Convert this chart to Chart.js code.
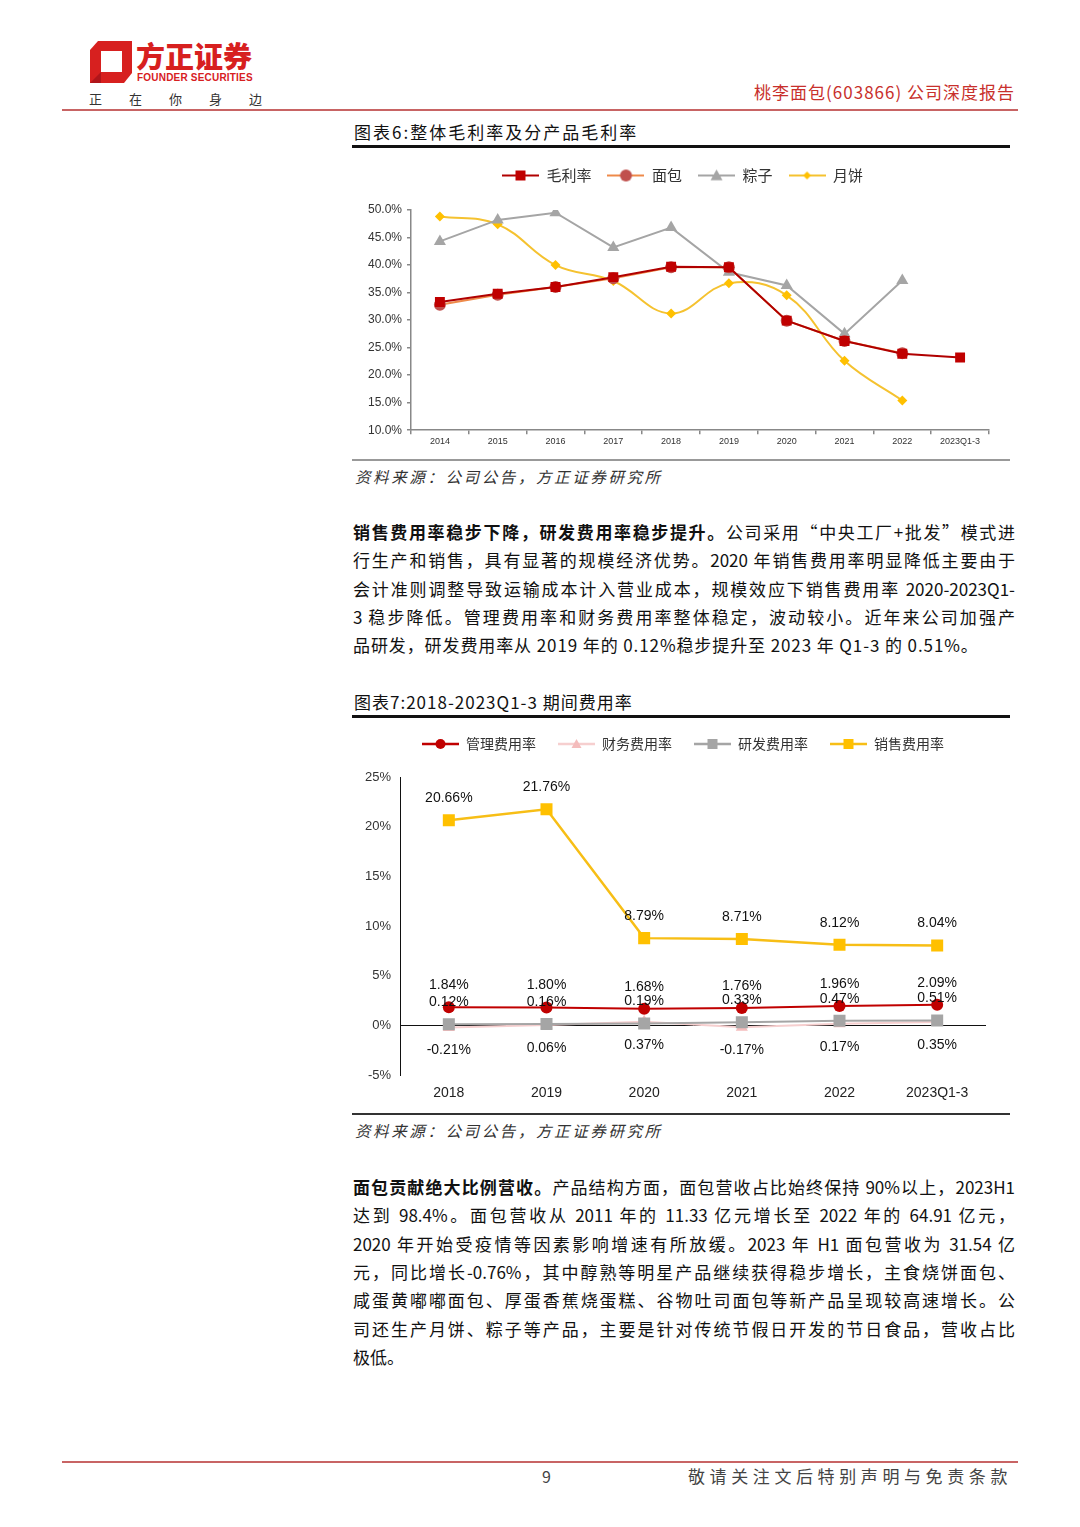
<!DOCTYPE html>
<html>
<head>
<meta charset="utf-8">
<script src="https://cdn.jsdelivr.net/npm/chart.js@4.4.0/dist/chart.umd.min.js"></script>
<style>
  body { margin: 0; background: #fff; }
  #page { position: relative; width: 1080px; height: 1527px; overflow: hidden; background: #fff;
          font-family: "Noto Sans CJK SC", "Noto Sans", sans-serif; color: #111; }
  .abs { position: absolute; white-space: nowrap; }
  .rule { position: absolute; }
  .title { font-size: 17px; line-height: 24px; letter-spacing: 1px; color: #111; }
  .src { font-size: 15.5px; line-height: 22px; font-style: italic; letter-spacing: 2.6px; color: #333; }
  .para { position: absolute; left: 353px; width: 662px; font-size: 17px; color: #111; }
  .para div { height: 28.4px; line-height: 28.4px; white-space: nowrap; }
  .para div.j { text-align: justify; text-align-last: justify; white-space: normal; overflow: hidden; }
  .para div.last { letter-spacing: 0.9px; }
  .para b { font-weight: 700; }
  .box { position: absolute; }
</style>
</head>
<body>
<div id="page">
  <!-- header -->
  <svg class="abs" style="left:88px;top:39px" width="46" height="46" viewBox="0 0 46 46">
    <path d="M10 2 L44 2 L44 34 L36 44 L2 44 L2 11 Z" fill="#d7201f"/>
    <path d="M13 12 L34 12 L34 33 L13 33 Z" fill="#fff"/>
    <path d="M2 44 L13 33 L13 44 Z" fill="#b0151a"/>
  </svg>
  <div class="abs" style="left:136px;top:36px;font-size:29px;line-height:38px;font-weight:900;color:#d7201f">方正证券</div>
  <div class="abs" style="left:137px;top:72px;font-family:'Liberation Sans',Arial;font-size:10px;line-height:12px;font-weight:700;color:#d7201f;letter-spacing:0.2px">FOUNDER SECURITIES</div>
  <div class="abs" style="left:89px;top:91px;font-size:13px;line-height:16px;color:#333;letter-spacing:27px">正在你身边</div>
  <div class="abs" style="right:65px;top:80px;font-size:17px;line-height:24px;color:#c8302c;letter-spacing:1px">桃李面包(603866) 公司深度报告</div>
  <div class="rule" style="left:62px;top:109px;width:956px;height:2px;background:#c86464"></div>

  <!-- figure 6 -->
  <div class="abs title" style="left:354px;top:120px;letter-spacing:2px">图表6:整体毛利率及分产品毛利率</div>
  <div class="rule" style="left:352px;top:145px;width:658px;height:3px;background:#111"></div>
  <div class="box" style="left:352px;top:150px;width:658px;height:305px"><canvas id="marginChart"></canvas></div>
  <div class="rule" style="left:352px;top:459px;width:658px;height:2px;background:#999"></div>
  <div class="abs src" style="left:355px;top:465px">资料来源：公司公告，方正证券研究所</div>

  <div class="para" style="top:517.8px">
    <div class="j"><b>销售费用率稳步下降，研发费用率稳步提升。</b>公司采用“中央工厂+批发”模式进</div>
    <div class="j">行生产和销售，具有显著的规模经济优势。2020 年销售费用率明显降低主要由于</div>
    <div class="j">会计准则调整导致运输成本计入营业成本，规模效应下销售费用率 2020-2023Q1-</div>
    <div class="j">3 稳步降低。管理费用率和财务费用率整体稳定，波动较小。近年来公司加强产</div>
    <div class="last">品研发，研发费用率从 2019 年的 0.12%稳步提升至 2023 年 Q1-3 的 0.51%。</div>
  </div>

  <!-- figure 7 -->
  <div class="abs title" style="left:354px;top:690px">图表7:2018-2023Q1-3 期间费用率</div>
  <div class="rule" style="left:352px;top:715px;width:658px;height:3px;background:#111"></div>
  <div class="box" style="left:352px;top:715px;width:658px;height:391px"><canvas id="expenseChart"></canvas></div>
  <div class="rule" style="left:352px;top:1113px;width:658px;height:2px;background:#333"></div>
  <div class="abs src" style="left:355px;top:1119px">资料来源：公司公告，方正证券研究所</div>

  <div class="para" style="top:1172.8px">
    <div class="j"><b>面包贡献绝大比例营收。</b>产品结构方面，面包营收占比始终保持 90%以上，2023H1</div>
    <div class="j">达到 98.4%。面包营收从 2011 年的 11.33 亿元增长至 2022 年的 64.91 亿元，</div>
    <div class="j">2020 年开始受疫情等因素影响增速有所放缓。2023 年 H1 面包营收为 31.54 亿</div>
    <div class="j">元，同比增长-0.76%，其中醇熟等明星产品继续获得稳步增长，主食烧饼面包、</div>
    <div class="j">咸蛋黄嘟嘟面包、厚蛋香蕉烧蛋糕、谷物吐司面包等新产品呈现较高速增长。公</div>
    <div class="j">司还生产月饼、粽子等产品，主要是针对传统节假日开发的节日食品，营收占比</div>
    <div>极低。</div>
  </div>

  <!-- footer -->
  <div class="rule" style="left:62px;top:1461px;width:956px;height:2px;background:#c86464"></div>
  <div class="abs" style="left:542px;top:1465px;font-size:16px;line-height:22px;color:#444">9</div>
  <div class="abs" style="left:688px;top:1464px;font-size:17px;line-height:24px;color:#444;letter-spacing:4.6px">敬请关注文后特别声明与免责条款</div>
</div>

<script>
// ---- data ----
const years1 = ['2014', '2015', '2016', '2017', '2018', '2019', '2020', '2021', '2022', '2023Q1-3'];
const grossMargin = [33.3, 34.8, 36.0, 37.8, 39.7, 39.6, 29.9, 26.2, 23.9, 23.2];
const breadMargin = [32.8, 34.6, 36.0, 37.6, 39.6, 39.6, 29.9, 26.2, 24.0, null];
const zongziMargin = [44.3, 48.2, 49.5, 43.2, 46.8, 38.7, 36.3, 27.5, 37.2, null];
const mooncakeMargin = [48.8, 47.4, 40.0, 37.1, 31.2, 36.7, 34.5, 22.6, 15.4, null];

const years2 = ['2018', '2019', '2020', '2021', '2022', '2023Q1-3'];
const adminRate = [1.84, 1.80, 1.68, 1.76, 1.96, 2.09];
const financeRate = [-0.21, 0.06, 0.37, -0.17, 0.17, 0.35];
const rdRate = [0.12, 0.16, 0.19, 0.33, 0.47, 0.51];
const salesRate = [20.66, 21.76, 8.79, 8.71, 8.12, 8.04];

Chart.defaults.font.family = '"Liberation Sans", Arial, sans-serif';
Chart.defaults.color = '#333';
const cjkFont = '"Noto Sans CJK SC", sans-serif';

// small line+marker swatch for legends
function legendIcon(lineColor, lineWidth, shape, fill, r) {
  const c = document.createElement('canvas');
  c.width = 37; c.height = 14;
  const g = c.getContext('2d');
  g.strokeStyle = lineColor;
  g.lineWidth = lineWidth;
  g.beginPath(); g.moveTo(0, 7); g.lineTo(37, 7); g.stroke();
  g.fillStyle = fill;
  const cx = 18.5, cy = 7;
  g.beginPath();
  if (shape === 'rect') g.rect(cx - r, cy - r, 2 * r, 2 * r);
  else if (shape === 'circle') g.arc(cx, cy, r, 0, Math.PI * 2);
  else if (shape === 'triangle') { g.moveTo(cx, cy - r); g.lineTo(cx + r, cy + r * 0.8); g.lineTo(cx - r, cy + r * 0.8); g.closePath(); }
  else if (shape === 'diamond') { g.moveTo(cx, cy - r); g.lineTo(cx + r, cy); g.lineTo(cx, cy + r); g.lineTo(cx - r, cy); g.closePath(); }
  g.fill();
  return c;
}

function legendLabels(chart) {
  const items = Chart.defaults.plugins.legend.labels.generateLabels(chart);
  items.forEach((it) => { it.pointStyle = chart.data.datasets[it.datasetIndex].legendIcon; });
  items.sort((a, b) => a.datasetIndex - b.datasetIndex);
  return items;
}

// extra gap under the legend and a horizontal nudge, so it sits like the original
const legendTweak = {
  id: 'legendTweak',
  afterInit(chart, args, opts) {
    const legend = chart.legend;
    const fit = legend.fit;
    const draw = legend.draw;
    legend.fit = function () {
      fit.call(legend);
      legend.height += opts.gap || 0;
    };
    legend.draw = function () {
      chart.ctx.save();
      chart.ctx.translate(opts.dx || 0, 0);
      draw.call(legend);
      chart.ctx.restore();
    };
  }
};

// value labels above / below points
const valueLabels = {
  id: 'valueLabels',
  afterDatasetsDraw(chart) {
    const ctx = chart.ctx;
    chart.data.datasets.forEach((ds, i) => {
      if (!ds.labelPos) return;
      const meta = chart.getDatasetMeta(i);
      ctx.save();
      ctx.font = '14px "Liberation Sans", Arial';
      ctx.fillStyle = '#111';
      ctx.textAlign = 'center';
      ctx.textBaseline = 'middle';
      meta.data.forEach((pt, j) => {
        const off = ds.labelPos === 'above' ? -22 : 23;
        ctx.fillText(ds.data[j].toFixed(2) + '%', pt.x, pt.y + off);
      });
      ctx.restore();
    });
  }
};

new Chart(document.getElementById('marginChart'), {
  type: 'line',
  data: {
    labels: years1,
    datasets: [
      { label: '毛利率', data: grossMargin, borderColor: '#b00000', backgroundColor: '#c00000', borderWidth: 2,
        pointStyle: 'rect', pointRadius: 7, pointBorderWidth: 0, tension: 0,
        legendIcon: legendIcon('#b00000', 2, 'rect', '#c00000', 5) },
      { label: '面包', data: breadMargin, borderColor: '#ee8a4a', backgroundColor: '#c0504d', borderWidth: 2,
        pointStyle: 'circle', pointRadius: 6, pointBorderWidth: 0, tension: 0,
        legendIcon: legendIcon('#ee8a4a', 2, 'circle', '#c0504d', 6) },
      { label: '粽子', data: zongziMargin, borderColor: '#a5a5a5', backgroundColor: '#a5a5a5', borderWidth: 2,
        pointStyle: 'triangle', pointRadius: 7, pointBorderWidth: 0, tension: 0,
        legendIcon: legendIcon('#a5a5a5', 2, 'triangle', '#a5a5a5', 6) },
      { label: '月饼', data: mooncakeMargin, borderColor: '#f5c230', backgroundColor: '#ffc000', borderWidth: 2,
        pointStyle: 'rectRot', pointRadius: 5, pointBorderWidth: 0, tension: 0.4,
        legendIcon: legendIcon('#f5c230', 2, 'diamond', '#ffc000', 4) }
    ]
  },
  options: {
    animation: false,
    responsive: true,
    maintainAspectRatio: false,
    layout: { padding: { left: 0, right: 21, top: 2, bottom: 6 } },
    plugins: {
      tooltip: { enabled: false },
      legendTweak: { gap: 17, dx: 12 },
      legend: {
        position: 'top',
        labels: { usePointStyle: true, pointStyleWidth: 37, padding: 16, color: '#333',
          font: { family: cjkFont, size: 15 }, generateLabels: legendLabels }
      }
    },
    scales: {
      x: {
        offset: true,
        grid: { offset: true, drawOnChartArea: false, drawTicks: true, tickLength: 4, color: '#888', lineWidth: 1.5 },
        border: { color: '#888', width: 1.5 },
        ticks: { font: { size: 9 }, color: '#333', padding: 2, maxRotation: 0, autoSkip: false }
      },
      y: {
        min: 10, max: 50,
        afterFit: (s) => { s.width = 59; },
        grid: { drawOnChartArea: false, drawTicks: true, tickLength: 4, color: '#888', lineWidth: 1.5 },
        border: { color: '#888', width: 1.5 },
        ticks: { stepSize: 5, font: { size: 12 }, color: '#333', padding: 5,
          callback: (v) => v.toFixed(1) + '%' }
      }
    }
  },
  plugins: [legendTweak]
});

new Chart(document.getElementById('expenseChart'), {
  type: 'line',
  data: {
    labels: years2,
    datasets: [
      { label: '管理费用率', data: adminRate, order: 0, borderColor: '#c00000', backgroundColor: '#c00000', borderWidth: 2,
        pointStyle: 'circle', pointRadius: 6, pointBorderWidth: 0, labelPos: 'above',
        legendIcon: legendIcon('#c00000', 2.5, 'circle', '#c00000', 5) },
      { label: '财务费用率', data: financeRate, order: 2, borderColor: '#f6cfcf', backgroundColor: '#f4bcbc', borderWidth: 2,
        pointStyle: 'triangle', pointRadius: 7, pointBorderWidth: 0, labelPos: 'below',
        legendIcon: legendIcon('#f6cfcf', 2.5, 'triangle', '#f4bcbc', 5) },
      { label: '研发费用率', data: rdRate, order: 1, borderColor: '#a5a5a5', backgroundColor: '#a5a5a5', borderWidth: 2,
        pointStyle: 'rect', pointRadius: 8.5, pointBorderWidth: 0, labelPos: 'above',
        legendIcon: legendIcon('#a5a5a5', 2.5, 'rect', '#a5a5a5', 5) },
      { label: '销售费用率', data: salesRate, order: 3, borderColor: '#f7be16', backgroundColor: '#ffc000', borderWidth: 2.5,
        pointStyle: 'rect', pointRadius: 8.5, pointBorderWidth: 0, labelPos: 'above',
        legendIcon: legendIcon('#f7be16', 2.5, 'rect', '#ffc000', 5) }
    ]
  },
  options: {
    animation: false,
    responsive: true,
    maintainAspectRatio: false,
    layout: { padding: { left: 0, right: 24, top: 0, bottom: 2 } },
    plugins: {
      tooltip: { enabled: false },
      legendTweak: { gap: 16, dx: 14 },
      legend: {
        position: 'top',
        labels: { usePointStyle: true, pointStyleWidth: 37, padding: 22, color: '#333',
          font: { family: cjkFont, size: 14 }, generateLabels: legendLabels }
      }
    },
    scales: {
      x: {
        offset: true,
        grid: { display: false },
        border: { display: false },
        ticks: { font: { size: 14 }, color: '#222', padding: 2, maxRotation: 0, autoSkip: false }
      },
      y: {
        min: -5, max: 25,
        afterFit: (s) => { s.width = 48; },
        grid: { drawTicks: false, lineWidth: 1, color: (c) => (c.tick && c.tick.value === 0 ? '#111' : 'rgba(0,0,0,0)') },
        border: { color: '#111', width: 1 },
        ticks: { stepSize: 5, font: { size: 13 }, color: '#333', padding: 9,
          callback: (v) => v + '%' }
      }
    }
  },
  plugins: [valueLabels, legendTweak]
});
</script>
</body>
</html>
